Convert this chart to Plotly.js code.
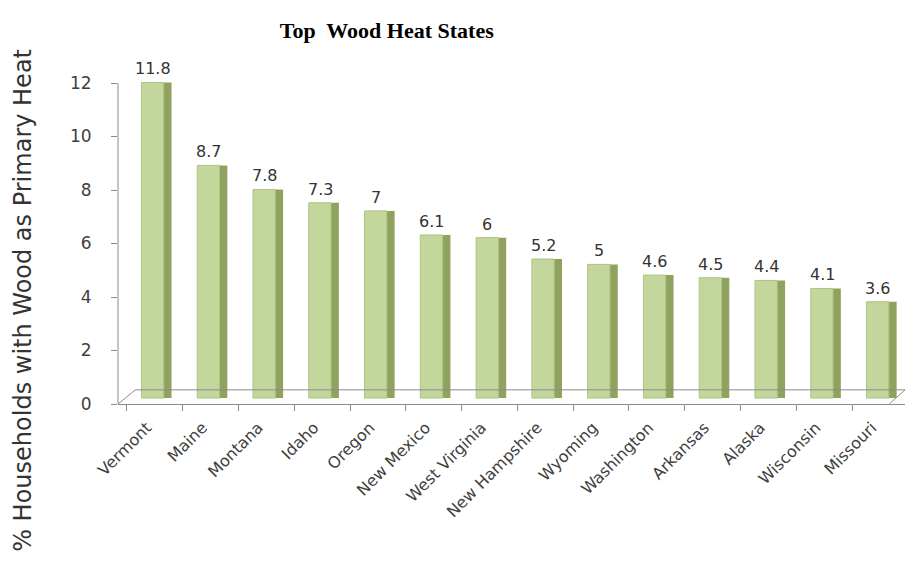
<!DOCTYPE html>
<html>
<head>
<meta charset="utf-8">
<script src="https://cdn.plot.ly/plotly-3.0.1.min.js"></script>
<style>html,body{margin:0;padding:0;background:#fff;}#chart{width:910px;height:571px;}</style>
</head>
<body>
<div id="chart"></div>
<script>
var states = ["Vermont","Maine","Montana","Idaho","Oregon","New Mexico","West Virginia","New Hampshire","Wyoming","Washington","Arkansas","Alaska","Wisconsin","Missouri"];
var percents = [11.8, 8.7, 7.8, 7.3, 7, 6.1, 6, 5.2, 5, 4.6, 4.5, 4.4, 4.1, 3.6];
var yTicks = [0, 2, 4, 6, 8, 10, 12];

var side = {
  type: "bar", x: states, y: percents, yaxis: "y2",
  width: 0.52, offset: -0.22,
  marker: {color: "#8fa35e", line: {width: 0}},
  hoverinfo: "skip", showlegend: false
};
var front = {
  type: "bar", x: states, y: percents, yaxis: "y2",
  width: 0.4, offset: -0.24,
  marker: {color: "#c3d69b", line: {color: "#b0c486", width: 1}},
  showlegend: false
};
var axisAnchor = {
  type: "scatter", x: states, y: percents.map(function(){return null;}), yaxis: "y",
  mode: "markers", hoverinfo: "skip", showlegend: false
};

var annots = states.map(function(s, i) {
  return {x: s, y: percents[i], xref: "x", yref: "y2", text: String(percents[i]),
    xanchor: "center", yanchor: "bottom", xshift: -2, yshift: 2, showarrow: false,
    font: {family: "DejaVu Sans, sans-serif", size: 16, color: "#333333"}};
});
annots.push({text: "% Households with Wood as Primary Heat", xref: "paper", yref: "paper",
  x: -0.121, y: 0.316, xanchor: "center", yanchor: "middle", textangle: -90, showarrow: false,
  font: {family: "DejaVu Sans, sans-serif", size: 24, color: "#333333"}});

var layout = {
  width: 910, height: 571,
  margin: {l: 118, r: 5, t: 75, b: 167},
  paper_bgcolor: "#ffffff", plot_bgcolor: "rgba(0,0,0,0)",
  barmode: "overlay",
  title: {text: "<b>Top  Wood Heat States</b>", x: 0.425, xanchor: "center", y: 0.947, yanchor: "middle",
    font: {family: "Liberation Serif, Times New Roman, serif", size: 22, color: "#000"}},
  xaxis: {
    range: [-0.66, 13.45], showline: true, linecolor: "#8c8c8c", linewidth: 1,
    ticks: "outside", tickson: "boundaries", ticklen: 6, tickcolor: "#8c8c8c",
    tickangle: -45, showgrid: false, zeroline: false, ticklabelstandoff: 7, ticklabelshift: -8,
    tickfont: {family: "DejaVu Sans, sans-serif", size: 16, color: "#404040"}
  },
  yaxis: {
    range: [0, 12.3], tickvals: yTicks, showline: false,
    ticks: "outside", ticklen: 6, tickcolor: "#8c8c8c", ticklabelstandoff: 16,
    showgrid: false, zeroline: false,
    tickfont: {family: "DejaVu Sans, sans-serif", size: 17, color: "#404040"}
  },
  yaxis2: {
    overlaying: "y", range: [-0.22, 12.08], visible: false
  },
  annotations: annots,
  shapes: [
    {type: "line", xref: "paper", yref: "y", x0: 0, y0: 0, x1: 0, y1: 12, line: {color: "#8c8c8c", width: 1}},
    {type: "line", xref: "paper", yref: "paper", x0: 0, y0: 0, x1: 0.022, y1: 0.043, line: {color: "#8c8c8c", width: 1}},
    {type: "line", xref: "paper", yref: "paper", x0: 0.022, y0: 0.043, x1: 1, y1: 0.043, line: {color: "#8c8c8c", width: 1}},
    {type: "line", xref: "paper", yref: "paper", x0: 0.98, y0: 0, x1: 1, y1: 0.043, line: {color: "#8c8c8c", width: 1}}
  ]
};

Plotly.newPlot("chart", [axisAnchor, side, front], layout, {displayModeBar: false, staticPlot: true});
</script>
</body>
</html>
